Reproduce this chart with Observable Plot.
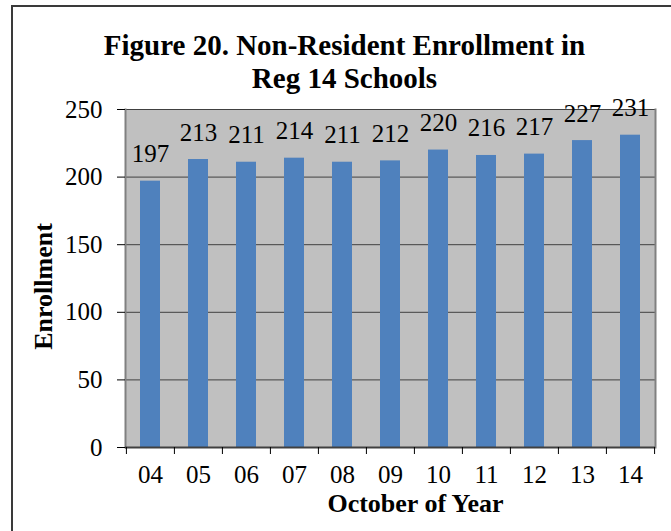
<!DOCTYPE html>
<html><head>
<meta charset="utf-8">
<script src="https://cdn.jsdelivr.net/npm/d3@7"></script>
<script src="https://cdn.jsdelivr.net/npm/@observablehq/plot@0.6"></script>
<style>
body{margin:0;background:#fff;overflow:hidden;width:671px;height:531px}
#border{position:absolute;left:11px;top:5px;width:720px;height:620px;border:2px solid #3a3a3a;box-sizing:border-box}
#chart{position:absolute;left:0;top:0}
#chart svg text{font-family:'Liberation Serif','Times New Roman',serif}
</style></head><body><div id="border"></div><div id="chart"></div>
<script>
const years = ["04","05","06","07","08","09","10","11","12","13","14"];
const enrollment = [197,213,211,214,211,212,220,216,217,227,231];
const yTicks = [0,50,100,150,200,250];
const titleLines = ["Figure 20. Non-Resident Enrollment in","Reg 14 Schools"];
const xLabel = "October of Year";
const yLabel = "Enrollment";

const data = years.map((y,i)=>({year:y, value:enrollment[i]}));
const W = 671, H = 531, mL = 125, mR = 16, mT = 109, mB = 84;
const step = (W - mL - mR) / years.length;
const font = "Liberation Serif";

const chart = Plot.plot({
  width: W, height: H,
  marginLeft: mL, marginRight: mR, marginTop: mT, marginBottom: mB,
  style: {fontFamily: font, background: "transparent", overflow: "visible"},
  x: {domain: years, paddingInner: 0.58, paddingOuter: 0.29, label: null},
  y: {domain: [0,250], label: null},
  marks: [
    Plot.frame({fill: "#c0c0c0", stroke: null}),
    Plot.gridY(yTicks, {stroke: "#404040", strokeOpacity: 1, strokeWidth: 1}),
    Plot.barY(data, {x: "year", y: "value", fill: "#4f81bd"}),
    Plot.frame({anchor: "left", stroke: "#808080", strokeWidth: 2}),
    Plot.frame({anchor: "right", stroke: "#808080", strokeWidth: 2}),
    Plot.ruleY([0], {stroke: "#404040", strokeWidth: 2}),
    Plot.ruleX(years, {x: d=>d, y1: 0, y2: 0, dx: -step/2, insetBottom: -7, stroke: "#000", strokeWidth: 1}),
    Plot.ruleX([years[years.length-1]], {x: d=>d, y1: 0, y2: 0, dx: step/2, insetBottom: -7, stroke: "#000", strokeWidth: 1}),
    Plot.axisY({ticks: yTicks, tickSize: 8, tickPadding: 15, fontSize: 25, fontFamily: font, label: null, stroke: "#000", fill: "#000", fontVariant: "normal"}),
    Plot.axisX({tickSize: 0, tickPadding: 18, fontSize: 25, fontFamily: font, label: null, fill: "#000", fontVariant: "normal"}),
    Plot.text(data, {x: "year", y: "value", text: d=>String(d.value), dy: -27, fontSize: 25, fontFamily: font, fill: "#000", lineAnchor: "middle"}),
    Plot.text([titleLines[0]], {frameAnchor: "top", lineAnchor: "middle", text: d=>d, dx: -46, dy: -64, fontSize: 29, fontFamily: font, fontWeight: "bold", fill: "#000"}),
    Plot.text([titleLines[1]], {frameAnchor: "top", lineAnchor: "middle", text: d=>d, dx: -46, dy: -31, fontSize: 29, fontFamily: font, fontWeight: "bold", fill: "#000"}),
    Plot.text([xLabel], {frameAnchor: "bottom", lineAnchor: "middle", text: d=>d, dx: 25, dy: 56, fontSize: 26, fontFamily: font, fontWeight: "bold", fill: "#000"}),
    Plot.text([yLabel], {frameAnchor: "left", lineAnchor: "middle", textAnchor: "middle", text: d=>d, rotate: -90, dx: -82, dy: 8, fontSize: 26, fontFamily: font, fontWeight: "bold", fill: "#000"})
  ]
});
document.getElementById("chart").appendChild(chart);
</script>
</body></html>
